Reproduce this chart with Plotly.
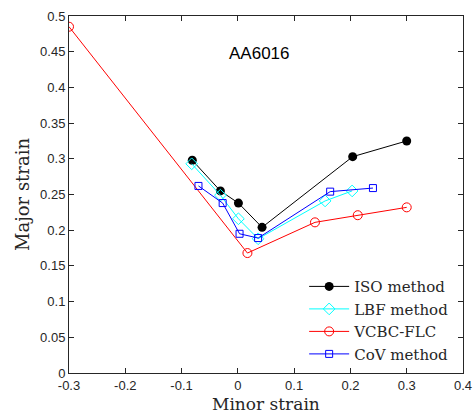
import plotly.graph_objects as go

iso_x = [-0.081, -0.031, 0.001, 0.043, 0.204, 0.300]
iso_y = [0.298, 0.255, 0.238, 0.204, 0.303, 0.325]
lbf_x = [-0.082, -0.031, 0.001, 0.036, 0.155, 0.203]
lbf_y = [0.293, 0.249, 0.216, 0.188, 0.241, 0.255]
vcbc_x = [-0.300, 0.017, 0.137, 0.213, 0.300]
vcbc_y = [0.485, 0.168, 0.211, 0.221, 0.232]
cov_x = [-0.070, -0.027, 0.003, 0.036, 0.164, 0.240]
cov_y = [0.262, 0.238, 0.195, 0.189, 0.254, 0.259]

x_ticks = [-0.3, -0.2, -0.1, 0, 0.1, 0.2, 0.3, 0.4]
x_labels = ["-0.3", "-0.2", "-0.1", "0", "0.1", "0.2", "0.3", "0.4"]
y_ticks = [0, 0.05, 0.1, 0.15, 0.2, 0.25, 0.3, 0.35, 0.4, 0.45, 0.5]
y_labels = ["0", "0.05", "0.1", "0.15", "0.2", "0.25", "0.3", "0.35", "0.4", "0.45", "0.5"]

fig = go.Figure()
fig.add_trace(go.Scatter(x=iso_x, y=iso_y, mode="lines+markers", name="ISO method",
                         line=dict(color="black", width=1),
                         marker=dict(symbol="circle", size=9, color="black")))
fig.add_trace(go.Scatter(x=lbf_x, y=lbf_y, mode="lines+markers", name="LBF method",
                         line=dict(color="#00FFFF", width=1),
                         marker=dict(symbol="diamond-open", size=9, color="#00FFFF")))
fig.add_trace(go.Scatter(x=vcbc_x, y=vcbc_y, mode="lines+markers", name="VCBC-FLC",
                         line=dict(color="#FF0000", width=1),
                         marker=dict(symbol="circle-open", size=9, color="#FF0000")))
fig.add_trace(go.Scatter(x=cov_x, y=cov_y, mode="lines+markers", name="CoV method",
                         line=dict(color="#0000FF", width=1),
                         marker=dict(symbol="square-open", size=7, color="#0000FF")))

fig.add_annotation(x=0.038, y=0.447, xref="x", yref="y", text="AA6016", showarrow=False,
                   font=dict(family="Liberation Sans", size=17, color="black"))
fig.add_annotation(x=0.5, y=-0.0868, xref="paper", yref="paper", text="Minor strain",
                   showarrow=False, xanchor="center", yanchor="middle",
                   font=dict(family="DejaVu Serif", size=17, color="#262626"))

axis_common = dict(showgrid=False, zeroline=False, showline=True, linecolor="#262626",
                   linewidth=1, mirror="ticks", ticks="inside", ticklen=5,
                   tickcolor="#262626", automargin=False,
                   tickfont=dict(family="Liberation Sans", size=13, color="#262626"))

fig.update_xaxes(range=[-0.3, 0.4], tickvals=x_ticks, ticktext=x_labels,
                 ticklabelstandoff=0, **axis_common)
fig.update_yaxes(range=[0, 0.5], tickvals=y_ticks, ticktext=y_labels,
                 title=dict(text="Major strain", standoff=5,
                            font=dict(family="DejaVu Serif", size=18, color="#262626")),
                 **axis_common)

fig.update_layout(width=473, height=413, margin=dict(l=69, r=10, t=16, b=40),
                  plot_bgcolor="white", paper_bgcolor="white",
                  legend=dict(x=0.975, y=0.008, xanchor="right", yanchor="bottom",
                              bgcolor="rgba(255,255,255,0)",
                              font=dict(family="DejaVu Serif", size=15, color="#262626"),
                              tracegroupgap=0, itemwidth=40))

fig.write_html("out.html")
